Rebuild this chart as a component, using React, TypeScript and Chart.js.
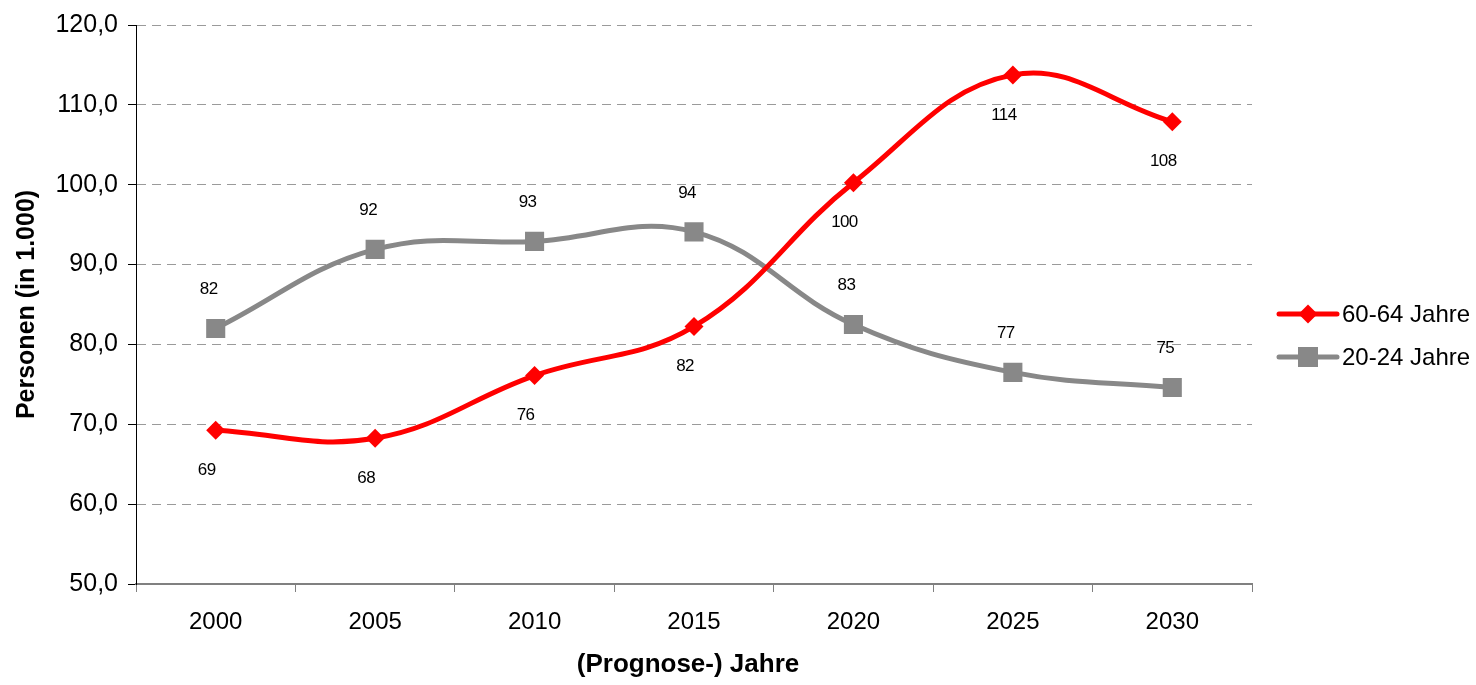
import React, { useEffect, useRef } from 'react';
import { Chart, registerables } from 'chart.js';

Chart.register(...registerables);

// ---- data ----
const categories = ['2000', '2005', '2010', '2015', '2020', '2025', '2030'];
const seniorsValues = [69.25, 68.25, 76.1, 82.25, 100.25, 113.75, 107.9];
const youthValues = [82.0, 91.9, 92.9, 94.1, 82.5, 76.5, 74.6];
const seriesNames = ['60-64 Jahre', '20-24 Jahre'];
const seriesColors = ['#ff0000', '#888888'];
const yMin = 50;
const yMax = 120;
const yStep = 10;
const xTitle = '(Prognose-) Jahre';
const yTitle = 'Personen (in 1.000)';

const FONT = '"Liberation Sans", Arial, Helvetica, sans-serif';
const W = 1476;
const H = 685;

const labelOffsets = [
  { dx: -9, dy: 40 },
  { dx: -7, dy: -39 },
];

const valueLabelsPlugin = {
  id: 'valueLabels',
  afterDatasetsDraw(chart: any) {
    const ctx = chart.ctx;
    ctx.save();
    ctx.font = `17px ${FONT}`;
    ctx.fillStyle = '#000';
    ctx.textAlign = 'center';
    ctx.textBaseline = 'middle';
    try { (ctx as any).letterSpacing = '-0.6px'; } catch (e) {}
    chart.data.datasets.forEach((ds: any, i: number) => {
      const meta = chart.getDatasetMeta(i);
      const off = labelOffsets[i];
      meta.data.forEach((pt: any, j: number) => {
        ctx.fillText(String(Math.round(ds.data[j])), pt.x + off.dx, pt.y + off.dy);
      });
    });
    ctx.restore();
  },
};

const xTitlePlugin = {
  id: 'xTitle',
  afterDraw(chart: any) {
    const ctx = chart.ctx;
    ctx.save();
    ctx.font = `bold 26px ${FONT}`;
    ctx.fillStyle = '#000';
    ctx.textAlign = 'center';
    ctx.textBaseline = 'middle';
    const cx = (chart.chartArea.left + chart.chartArea.right) / 2 - 6;
    ctx.fillText(xTitle, cx, chart.chartArea.bottom + 81);
    ctx.restore();
  },
};

const legendPlugin = {
  id: 'customLegend',
  afterDraw(chart: any) {
    const ctx = chart.ctx;
    const x0 = chart.chartArea.right + 27;
    const x1 = x0 + 58;
    const mid = (x0 + x1) / 2;
    const rows = [314, 357];
    ctx.save();
    chart.data.datasets.forEach((ds: any, i: number) => {
      const y = rows[i];
      ctx.strokeStyle = ds.borderColor;
      ctx.lineWidth = 5;
      ctx.lineCap = 'round';
      ctx.beginPath();
      ctx.moveTo(x0, y);
      ctx.lineTo(x1, y);
      ctx.stroke();
      ctx.fillStyle = ds.borderColor;
      ctx.beginPath();
      if (ds.pointStyle === 'rectRot') {
        const r = 9.5;
        ctx.moveTo(mid - r, y);
        ctx.lineTo(mid, y - r);
        ctx.lineTo(mid + r, y);
        ctx.lineTo(mid, y + r);
        ctx.closePath();
      } else {
        ctx.rect(mid - 10, y - 10, 20, 20);
      }
      ctx.fill();
      ctx.fillStyle = '#000';
      ctx.font = `24px ${FONT}`;
      ctx.textAlign = 'left';
      ctx.textBaseline = 'middle';
      ctx.fillText(ds.label, x1 + 5, y + 1);
    });
    ctx.restore();
  },
};

export default function App() {
  const ref = useRef<HTMLCanvasElement | null>(null);

  useEffect(() => {
    if (!ref.current) return;
    const chart = new Chart(ref.current, {
      type: 'line',
      data: {
        labels: categories,
        datasets: [
          {
            label: seriesNames[0],
            data: seniorsValues,
            borderColor: seriesColors[0],
            backgroundColor: seriesColors[0],
            borderWidth: 5,
            borderCapStyle: 'round',
            borderJoinStyle: 'round',
            pointStyle: 'rectRot',
            pointRadius: 9.5,
            pointBorderWidth: 0,
            tension: 0.4,
          },
          {
            label: seriesNames[1],
            data: youthValues,
            borderColor: seriesColors[1],
            backgroundColor: seriesColors[1],
            borderWidth: 5,
            borderCapStyle: 'round',
            borderJoinStyle: 'round',
            pointStyle: 'rect',
            pointRadius: 13.5,
            pointBorderWidth: 0,
            tension: 0.4,
          },
        ],
      },
      options: {
        responsive: false,
        animation: false,
        layout: { padding: { top: 24, right: 224, left: 0, bottom: 0 } },
        plugins: {
          legend: { display: false },
          tooltip: { enabled: false },
        },
        scales: {
          x: {
            offset: true,
            afterFit: (s: any) => { s.height = 101; },
            grid: {
              offset: true,
              drawOnChartArea: false,
              drawTicks: true,
              tickLength: 8,
              tickColor: '#808080',
              tickWidth: 1,
            },
            border: { color: '#808080', width: 2 },
            ticks: {
              color: '#000',
              font: { family: FONT, size: 24 },
              padding: 16,
              maxRotation: 0,
            },
            title: { display: false, text: xTitle },
          },
          y: {
            min: yMin,
            max: yMax,
            afterFit: (s: any) => { s.width = 136; },
            grid: {
              color: '#9a9a9a',
              lineWidth: 1,
              drawTicks: true,
              tickLength: 8,
              tickColor: '#000',
              tickBorderDash: [],
            },
            border: { color: '#000', width: 1, dash: [9, 6] },
            ticks: {
              stepSize: yStep,
              color: '#000',
              font: { family: FONT, size: 25 },
              padding: 10,
              callback: (v: any) => Number(v).toFixed(1).replace('.', ','),
            },
            title: {
              display: true,
              text: yTitle,
              color: '#000',
              font: { family: FONT, size: 25, weight: 'bold' },
              padding: { top: 12, bottom: 0 },
            },
          },
        },
      },
      plugins: [valueLabelsPlugin, xTitlePlugin, legendPlugin],
    } as any);
    return () => chart.destroy();
  }, []);

  return (
    <div style={{ position: 'fixed', left: 0, top: 0, width: W, height: H, background: '#fff' }}>
      <canvas ref={ref} width={W} height={H} style={{ display: 'block', width: W, height: H }} />
    </div>
  );
}
